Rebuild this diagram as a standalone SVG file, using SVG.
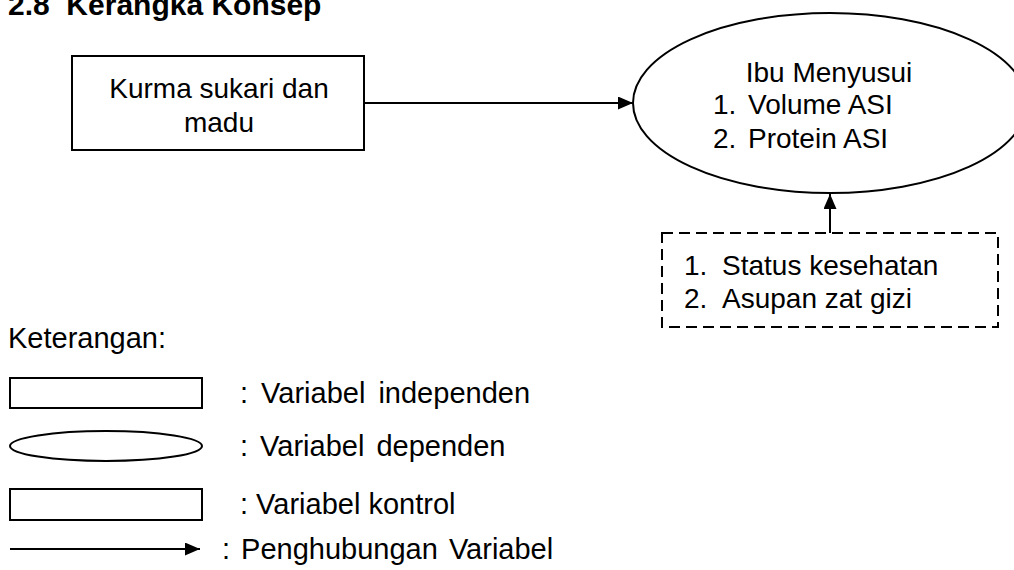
<svg xmlns="http://www.w3.org/2000/svg" width="1014" height="570" viewBox="0 0 1014 570">
<style>
text{font-family:"Liberation Sans",Arial,sans-serif;font-size:28px;fill:#000}
.t{font-weight:bold;font-size:30px}
.l{font-size:29px}
.s{fill:#fff;stroke:#000;stroke-width:2}
.d{fill:#fff;stroke:#000;stroke-width:2;stroke-dasharray:11,6}
.c{stroke:#000;stroke-width:2;fill:none}
</style>
<defs>
<marker id="ah" markerWidth="15" markerHeight="13" refX="15" refY="6.5" orient="auto" markerUnits="userSpaceOnUse">
<path d="M0,0 L15,6.5 L0,13 Z" fill="#000"/>
</marker>
</defs>
<rect width="1014" height="570" fill="#fff"/>
<text class="t" x="8" y="15" xml:space="preserve">2.8  Kerangka Konsep</text>
<g id="kurma">
<rect class="s" x="72" y="56" width="292" height="94"/>
<text x="219" y="98" text-anchor="middle">Kurma sukari dan</text>
<text x="219" y="132" text-anchor="middle">madu</text>
</g>
<g id="ibu">
<ellipse class="s" cx="830" cy="103" rx="197" ry="90"/>
<text x="829" y="82" text-anchor="middle">Ibu Menyusui</text>
<text x="713" y="114">1.</text><text x="748" y="114">Volume ASI</text>
<text x="713" y="148">2.</text><text x="748" y="148">Protein ASI</text>
</g>
<g id="kontrol">
<rect class="d" x="662" y="233" width="336" height="94"/>
<text x="684" y="275">1.</text><text x="722" y="275">Status kesehatan</text>
<text x="684" y="308">2.</text><text x="722" y="308">Asupan zat gizi</text>
</g>
<g id="connectors">
<line class="c" x1="364" y1="103" x2="633" y2="103" marker-end="url(#ah)"/>
<line class="c" x1="830" y1="233" x2="830" y2="210"/>
<line class="c" x1="830" y1="212" x2="830" y2="194" marker-end="url(#ah)"/>
</g>
<g id="legend">
<text class="l" x="8" y="348">Keterangan:</text>
<rect class="s" x="10" y="378" width="192" height="30"/>
<text class="l" x="240" y="403" word-spacing="5">: Variabel independen</text>
<ellipse class="s" cx="106" cy="446" rx="96" ry="15"/>
<text class="l" x="240" y="456" word-spacing="4">: Variabel dependen</text>
<rect class="s" x="10" y="489" width="192" height="31"/>
<text class="l" x="240" y="514">: Variabel kontrol</text>
<line class="c" x1="10" y1="549" x2="200" y2="549" marker-end="url(#ah)"/>
<text class="l" x="222" y="559" word-spacing="3">: Penghubungan Variabel</text>
</g>
</svg>
